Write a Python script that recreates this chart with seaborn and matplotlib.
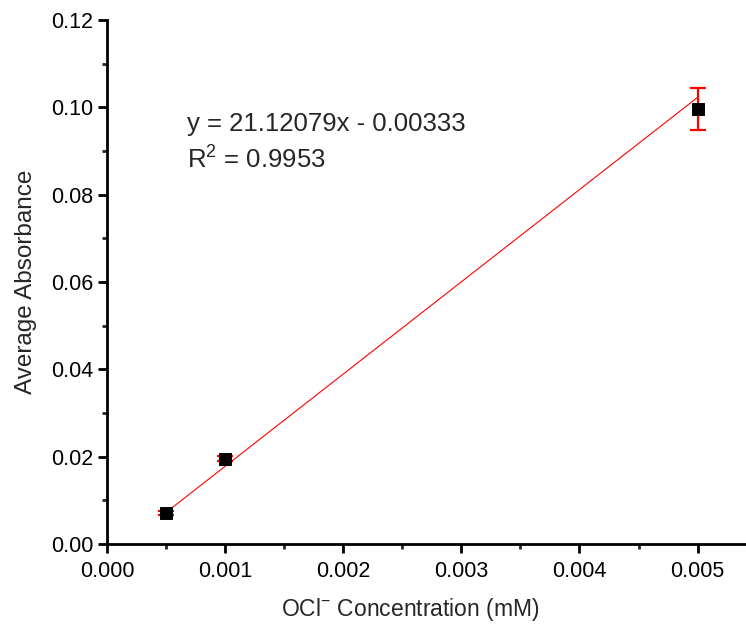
import numpy as np
import pandas as pd
import seaborn as sns
import matplotlib.pyplot as plt

# concentration (mM) vs averaged absorbance
conc = [0.0005, 0.001, 0.005]
absorbance = [0.0071, 0.0195, 0.0996]
abs_err = [0.0005, 0.0006, 0.0048]
slope = 21.12079
intercept = -0.00333
r_squared = 0.9953

df = pd.DataFrame({'conc': conc, 'absorbance': absorbance})
fit_df = pd.DataFrame({'conc': [conc[0], conc[-1]]})
fit_df['fit'] = slope * fit_df['conc'] + intercept

sns.set_style('ticks')
plt.rcParams['font.family'] = ['Liberation Sans', 'DejaVu Sans']
plt.rcParams['mathtext.default'] = 'regular'

fig = plt.figure(figsize=(7.46, 6.3), dpi=100)
ax = fig.add_axes([0.1434, 0.1365, 0.855, 0.8318])

# linear fit line
sns.lineplot(x='conc', y='fit', data=fit_df, color='red', linewidth=0.8, ax=ax, zorder=2)

# error bars then the markers
ax.errorbar(conc, absorbance, yerr=abs_err, fmt='none', ecolor='red',
            elinewidth=1.6, capsize=6, capthick=1.6, zorder=3)
sns.scatterplot(x='conc', y='absorbance', data=df, marker='s', color='black',
                s=70, edgecolor='black', ax=ax, zorder=4)

ax.text(0.000675, 0.0962, 'y = 21.12079x - 0.00333', fontsize=18.5, va='center')
ax.text(0.000675, 0.0880, 'R$^2$ = %.4f' % r_squared, fontsize=18.5, va='center')

ax.set_xlim(0, 0.0054)
ax.set_ylim(0, 0.12)
ax.set_xticks([0, 0.001, 0.002, 0.003, 0.004, 0.005])
ax.set_xticklabels(['0.000', '0.001', '0.002', '0.003', '0.004', '0.005'])
ax.set_yticks(np.arange(0, 0.121, 0.02))
ax.set_yticklabels(['0.00', '0.02', '0.04', '0.06', '0.08', '0.10', '0.12'])
ax.set_xticks([0.0005, 0.0015, 0.0025, 0.0035, 0.0045], minor=True)
ax.set_yticks(np.arange(0.01, 0.12, 0.02), minor=True)
ax.tick_params(which='major', direction='out', length=6.5, width=2, labelsize=15.5, colors='black')
ax.tick_params(axis='x', which='major', pad=6)
ax.tick_params(which='minor', direction='out', length=3.5, width=2)
for side in ['left', 'bottom']:
    ax.spines[side].set_linewidth(2)
    ax.spines[side].set_color('black')
sns.despine(ax=ax)

ax.set_xlabel('OCl$^{-}$ Concentration (mM)', fontsize=16.5, labelpad=12)
ax.xaxis.set_label_coords(0.475, -0.1)
ax.set_ylabel('Average Absorbance', fontsize=17.5, labelpad=10)

fig.savefig('out.png', dpi=100)
